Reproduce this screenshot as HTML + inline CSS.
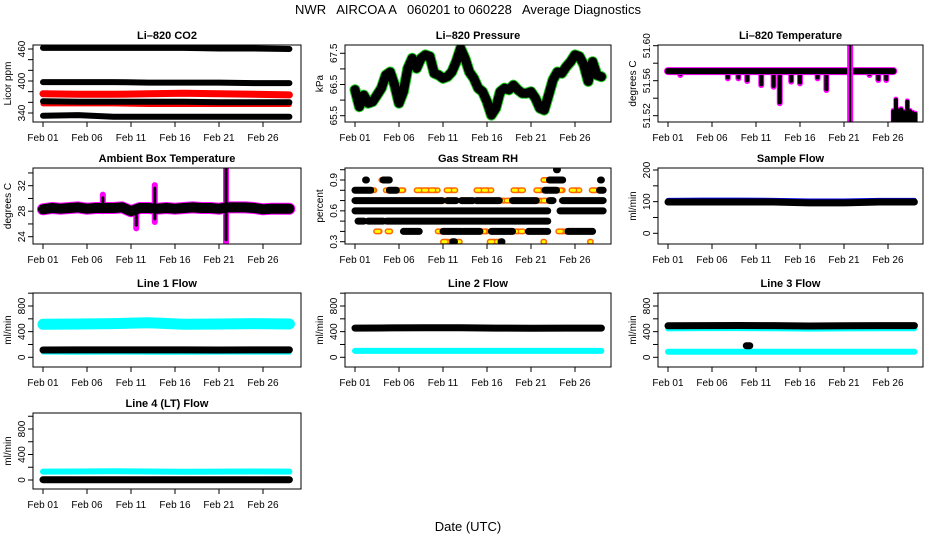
<!DOCTYPE html>
<html><head><meta charset="utf-8"><title>NWR AIRCOA Average Diagnostics</title>
<style>
html,body{margin:0;padding:0;background:#fff;}
svg{display:block;font-family:"Liberation Sans",Arial,sans-serif;}
</style></head>
<body>
<svg id="chart" width="936" height="540" viewBox="0 0 936 540" xmlns="http://www.w3.org/2000/svg">
<text x="468" y="14" text-anchor="middle" font-size="13" xml:space="preserve">NWR   AIRCOA A   060201 to 060228   Average Diagnostics</text>
<text x="468" y="531" text-anchor="middle" font-size="13">Date (UTC)</text>
</svg>
<script>
// ---------- data ----------
const xTickDays = [0,5,10,15,20,25];
const xTickLabels = ["Feb 01","Feb 06","Feb 11","Feb 16","Feb 21","Feb 26"];

// CO2
const co2Days = [0,4,8,12,16,20,24,28];
const co2Black1 = [462,462,462,462,462,461,461,460];
const co2Black2 = [398,398,398,397,397,397,396,396];
const co2Black3 = [362,361,361,361,361,360,360,360];
const co2Black4 = [335,336,333,333,333,333,333,333];
const co2Red1 = [376,375,375,376,377,376,375,374];
const co2Red2 = [357,357,357,356,356,356,356,356];

// Pressure
const presDays = [0,0.5,1,1.5,2,2.5,3,3.5,4,4.5,5,5.5,6,6.5,7,7.5,8,8.5,9,9.5,10,10.5,11,11.5,12,12.5,13,13.5,14,14.5,15,15.5,16,16.5,17,17.5,18,18.5,19,19.5,20,20.5,21,21.5,22,22.5,23,23.5,24,24.5,25,25.5,26,26.5,27,27.5,28];
const presVals = [66.33,65.79,66.16,65.9,65.95,66.16,66.38,66.8,66.9,66.48,65.9,66.27,67.02,67.34,67.02,67.34,67.45,67.4,66.86,66.8,66.7,66.75,66.9,67.23,67.66,67.34,66.9,66.7,66.38,66.27,65.95,65.52,65.74,66.27,66.38,66.33,66.48,66.33,66.22,66.22,66.27,66.06,65.74,65.68,66.16,66.65,66.9,66.86,67.07,67.23,67.45,67.4,67.13,66.6,67.23,66.8,66.75];

// Li-820 temperature
const tempMainDays = [0,25.6];
const tempMainVals = [51.571,51.571];
const tempDipDays = [1.4,6.8,8,9,10.6,12,12.7,14,15,17,18,22.9,23.9,24.8];
const tempDipMins = [51.5665,51.5627,51.5627,51.5597,51.555,51.5531,51.5342,51.5589,51.557,51.5627,51.5494,51.5665,51.5608,51.5608];
const tempSpikeDay = [20.7];
const tempLowDays = [25.6,25.9,26.2,26.5,26.8,27.2,27.5,27.8,28.1];
const tempLowVals = [51.525,51.538,51.526,51.527,51.524,51.536,51.525,51.523,51.522];

// Ambient box temperature
const ambDays = [0,1,2,3,4,5,6,7,8,9,10,11,12,13,14,15,16,17,18,19,20,21,22,23,24,25,26,27,28];
const ambVals = [28.3,28.5,28.4,28.5,28.6,28.4,28.5,28.5,28.5,28.6,28.0,28.5,28.5,28.4,28.5,28.4,28.5,28.6,28.5,28.5,28.4,28.6,28.6,28.6,28.5,28.3,28.4,28.4,28.4];
const ambSpikeDays = [6.8,10.6,12.7,20.8];
const ambSpikeLo = [28,25.3,26.3,23];
const ambSpikeHi = [30.6,28,32.1,35.6];

// Gas stream RH
const rhBlackLevel = [0.7,0.7,0.7,0.7,0.7,0.7,0.7,0.6,0.6,0.5,0.5,0.5,0.8,0.8,0.8,0.4,0.4,0.4,0.4,0.4,0.4,0.9,0.9,0.9,0.9,0.3,0.3,1.0,0.8];
const rhBlackStart = [0,10.5,12.1,13.8,17.9,22.1,23.6,0,23.3,0.35,1.5,3.6,0,3.9,21.6,5.5,10,12.3,15.5,19.7,24.2,1.2,3.2,22.1,27.9,11.1,16.6,22.9,27.8];
const rhBlackEnd = [9.9,11.5,13.4,16.4,20.6,22.5,28.2,21.9,28.2,1.0,3.2,21.9,1.8,4.7,22.9,7.3,12.1,14.2,17.9,21.9,27.0,1.3,3.9,23.6,28.0,11.3,16.7,23.0,28.2];
const rhYellowLevel = [0.7,0.7,0.7,0.7,0.8,0.8,0.8,0.8,0.8,0.8,0.8,0.8,0.8,0.8,0.5,0.5,0.4,0.4,0.4,0.4,0.4,0.4,0.4,0.9,0.9,0.3,0.3,0.3,0.3,1.0];
const rhYellowStart = [9.9,16.4,20.6,23.5,1.0,3.5,7.0,10.4,13.8,18.0,20.6,23.1,24.6,26.9,0.5,3.2,2.4,3.7,9.4,13.2,14.4,18.0,23.1,3.0,21.4,10.0,15.3,21.4,26.7];
const rhYellowEnd = [10.5,17.9,22.1,24.5,2.2,5.5,9.4,11.4,15.5,19.1,21.4,23.6,25.5,27.8,1.5,3.6,2.8,4.0,10.0,13.8,15.0,19.1,24.2,3.3,22.1,11.9,16.8,21.5,26.8];

// Sample flow
const sampDays = [0,4,8,12,16,20,24,28];
const sampBlack = [99,99,99,99,96,96,99,99];
const sampBlue = [104,105,105,104,102,102,104,104];

// Line flows
const flowDays = [0,4,8,12,16,20,24,28];
const line1Cyan = [515,520,525,540,515,520,525,520];
const line1CyanLow = [75,72,74,72,72,74,73,74];
const line1Black = [114,115,115,116,115,114,115,115];
const line2Black = [456,458,462,462,456,452,456,456];
const line2Cyan = [100,100,100,100,100,100,100,100];
const line3Black = [492,494,496,494,488,492,494,494];
const line3CyanMid = [450,455,455,452,448,450,452,452];
const line3CyanLow = [88,88,88,88,88,88,88,88];
const line3Outlier = [[8.9,181]];
const line4Cyan = [132,134,138,134,130,132,134,132];
const line4Black = [5,5,5,5,5,5,5,5];

// ---------- layout ----------
const NS = "http://www.w3.org/2000/svg";
const svg = document.getElementById("chart");
const COLS = [{bl:33,br:301,x0:43},{bl:345,br:611,x0:355},{bl:658,br:923,x0:668}];
const ROWS = [{bt:45,bb:122},{bt:168,bb:244},{bt:293,bb:367},{bt:413,bb:489}];
const DAYPX = 8.8;

function mk(tag, attrs, parent) {
  const e = document.createElementNS(NS, tag);
  for (const k in attrs) e.setAttribute(k, attrs[k]);
  (parent || svg).appendChild(e);
  return e;
}

function seq(a, b, s) { const r = []; for (let v = a; v <= b + s * 1e-6; v += s) r.push(+v.toFixed(6)); return r; }

function panel(id, title, ylab, col, row, ref, ticks, labels, fmt) {
  const C = COLS[col], R = ROWS[row];
  const g = mk("g", {});
  
  
  const k = (ref[3] - ref[1]) / (ref[2] - ref[0]);
  const P = {
    g: g,
    x: d => C.x0 + d * DAYPX,
    y: v => ref[1] + (v - ref[0]) * k,
    bl: C.bl, br: C.br, bt: R.bt, bb: R.bb
  };
  const cp = mk("clipPath", {id: "clip-" + id}, g);
  mk("rect", {x: C.bl, y: R.bt, width: C.br - C.bl, height: R.bb - R.bt}, cp);
  P.data = mk("g", {"clip-path": "url(#clip-" + id + ")"}, g);
  
  
  const box = mk("rect", {x: C.bl, y: R.bt, width: C.br - C.bl, height: R.bb - R.bt, fill: "none", stroke: "#000", "stroke-width": 1}, g);
  
  
  const t = mk("text", {x: (C.bl + C.br) / 2, y: R.bt - 6, "text-anchor": "middle", "font-size": 11, "font-weight": "bold"}, g);
  t.textContent = title;
  
  
  const yl = mk("text", {x: 0, y: 0, "text-anchor": "middle", "font-size": 10, transform: "translate(" + (C.bl - 22) + "," + ((R.bt + R.bb) / 2) + ") rotate(-90)"}, g);
  yl.textContent = ylab;
  
  
  const xa = mk("line", {x1: P.x(xTickDays[0]), x2: P.x(xTickDays[xTickDays.length - 1]), y1: R.bb, y2: R.bb, stroke: "#000"}, g);
  
  
  xTickDays.forEach((d, i) => {
    const tk = mk("line", {x1: P.x(d), x2: P.x(d), y1: R.bb, y2: R.bb + 5, stroke: "#000"}, g);
    
    
    const tl = mk("text", {x: P.x(d), y: R.bb + 19, "text-anchor": "middle", "font-size": 10}, g);
    tl.textContent = xTickLabels[i];
    
    
  });
  const ya = mk("line", {x1: C.bl, x2: C.bl, y1: P.y(ticks[0]), y2: P.y(ticks[ticks.length - 1]), stroke: "#000"}, g);
  
  
  ticks.forEach(v => {
    const tk = mk("line", {x1: C.bl - 5, x2: C.bl, y1: P.y(v), y2: P.y(v), stroke: "#000"}, g);
    
    
  });
  labels.forEach(v => {
    const tl = mk("text", {x: 0, y: 0, "text-anchor": "middle", "font-size": 10, transform: "translate(" + (C.bl - 8) + "," + P.y(v) + ") rotate(-90)"}, g);
    tl.textContent = fmt ? fmt(v) : String(v);
    
    
  });
  return P;
}

function band(P, days, vals, color, w, name, dash) {
  const pts = days.map((d, i) => P.x(d).toFixed(1) + "," + P.y(vals[i]).toFixed(1)).join(" ");
  const pl = mk("polyline", {points: pts, fill: "none", stroke: color, "stroke-width": w, "stroke-linecap": "round", "stroke-linejoin": "round"}, P.data);
  if (dash) pl.setAttribute("stroke-dasharray", dash);
  
  
  return pl;
}
function vseg(P, d, lo, hi, color, w, name) {
  const l = mk("line", {x1: P.x(d), x2: P.x(d), y1: P.y(lo), y2: P.y(hi), stroke: color, "stroke-width": w, "stroke-linecap": "round"}, P.data);
  
  
}
function hseg(P, a, b, v, color, w, name, dash) {
  const l = mk("line", {x1: P.x(a), x2: P.x(b), y1: P.y(v), y2: P.y(v), stroke: color, "stroke-width": w, "stroke-linecap": "round"}, P.data);
  if (dash) l.setAttribute("stroke-dasharray", dash);
  
  
}

// ---------- panels ----------
const pCO2 = panel("co2", "Li\u2013820 CO2", "Licor ppm", 0, 0, [340,113,460,49], seq(340,460,20), [340,400,460]);
band(pCO2, co2Days, co2Black1, "#000", 6, "co2-series-black-460");
band(pCO2, co2Days, co2Black2, "#000", 6, "co2-series-black-400");
band(pCO2, co2Days, co2Red1, "#f00", 7, "co2-series-red-375");
band(pCO2, co2Days, co2Red2, "#f00", 5, "co2-series-red-357");
band(pCO2, co2Days, co2Black3, "#000", 6, "co2-series-black-362");
band(pCO2, co2Days, co2Black4, "#000", 6, "co2-series-black-335");

const pPres = panel("pressure", "Li\u2013820 Pressure", "kPa", 1, 0, [65.5,115.7,67.5,53.3], seq(65.5,67.5,0.5), [65.5,66.5,67.5]);
band(pPres, presDays, presVals, "#2c2", 11, "pressure-series-outline");
band(pPres, presDays, presVals, "#000", 9, "pressure-series");

const pTemp = panel("li820-temp", "Li\u2013820 Temperature", "degrees C", 2, 0, [51.52,115.7,51.60,45.7], seq(51.52,51.60,0.02), [51.52,51.56,51.60], v => v.toFixed(2));
tempDipDays.forEach((d, i) => vseg(pTemp, d, tempMainVals[0], tempDipMins[i], "#f0f", 6, "li820-temp-dip-outline"));
tempDipDays.forEach((d, i) => vseg(pTemp, d, tempMainVals[0], tempDipMins[i] + 0.001, "#000", 4, "li820-temp-dip"));
band(pTemp, tempMainDays, tempMainVals, "#f0f", 8, "li820-temp-main-outline");
band(pTemp, tempMainDays, tempMainVals, "#000", 6, "li820-temp-main");
tempSpikeDay.forEach(d => { vseg(pTemp, d, 51.50, 51.605, "#f0f", 6, "li820-temp-spike-outline"); vseg(pTemp, d, 51.50, 51.600, "#000", 2, "li820-temp-spike"); });
tempLowDays.forEach((d, i) => vseg(pTemp, d, 51.50, tempLowVals[i] + 0.001, "#f0f", 5, "li820-temp-low-outline"));
tempLowDays.forEach((d, i) => vseg(pTemp, d, 51.50, tempLowVals[i], "#000", 4, "li820-temp-low"));

const pAmb = panel("ambient-temp", "Ambient Box Temperature", "degrees C", 0, 1, [24,236.7,32,185.7], seq(24,34,2), [24,28,32]);
ambSpikeDays.forEach((d, i) => vseg(pAmb, d, ambSpikeLo[i], ambSpikeHi[i], "#f0f", 6, "ambient-spike-outline"));
band(pAmb, ambDays, ambVals, "#f0f", 12, "ambient-series-outline");
band(pAmb, ambDays, ambVals, "#000", 10, "ambient-series");
ambSpikeDays.forEach((d, i) => vseg(pAmb, d, ambSpikeLo[i] + 0.5, ambSpikeHi[i] - 0.5, "#000", 3, "ambient-spike"));

const pRH = panel("rh", "Gas Stream RH", "percent", 1, 1, [0.3,241.7,0.9,180], seq(0.3,1.0,0.1), [0.3,0.6,0.9], v => v.toFixed(1));
rhYellowLevel.forEach((v, i) => hseg(pRH, rhYellowStart[i], rhYellowEnd[i], v, "#f60", 6, "rh-flagged-outline", "5 2"));
rhYellowLevel.forEach((v, i) => hseg(pRH, rhYellowStart[i], rhYellowEnd[i], v, "#ff0", 3, "rh-flagged", "3 4"));
rhBlackLevel.forEach((v, i) => hseg(pRH, rhBlackStart[i], rhBlackEnd[i], v, "#000", 7, "rh-series"));

const pSamp = panel("sample-flow", "Sample Flow", "ml/min", 2, 1, [0,233.3,200,170], seq(0,200,50), [0,100,200]);
band(pSamp, sampDays, sampBlue, "#00f", 5, "sample-flow-blue");
band(pSamp, sampDays, sampBlack, "#000", 7, "sample-flow-black");

const FT = seq(0,1000,200), FL = [0,400,800];
const pL1 = panel("line1", "Line 1 Flow", "ml/min", 0, 2, [0,357.3,800,306], FT, FL);
band(pL1, flowDays, line1Cyan, "#0ff", 11, "line1-cyan-high");
band(pL1, flowDays, line1CyanLow, "#0ff", 4, "line1-cyan-low");
band(pL1, flowDays, line1Black, "#000", 7, "line1-black");

const pL2 = panel("line2", "Line 2 Flow", "ml/min", 1, 2, [0,357.3,800,306], FT, FL);
band(pL2, flowDays, line2Black, "#000", 7, "line2-black");
band(pL2, flowDays, line2Cyan, "#0ff", 6, "line2-cyan");

const pL3 = panel("line3", "Line 3 Flow", "ml/min", 2, 2, [0,357.3,800,306], FT, FL);
band(pL3, flowDays, line3CyanMid, "#0ff", 6, "line3-cyan-mid");
band(pL3, flowDays, line3Black, "#000", 7, "line3-black");
band(pL3, flowDays, line3CyanLow, "#0ff", 6, "line3-cyan-low");
line3Outlier.forEach(p => band(pL3, [p[0], p[0] + 0.4], [p[1], p[1]], "#000", 7, "line3-outlier"));

const pL4 = panel("line4", "Line 4 (LT) Flow", "ml/min", 0, 3, [0,480,800,429], FT, FL);
band(pL4, flowDays, line4Cyan, "#0ff", 6, "line4-cyan");
band(pL4, flowDays, line4Black, "#000", 7, "line4-black");
</script>
</body></html>
